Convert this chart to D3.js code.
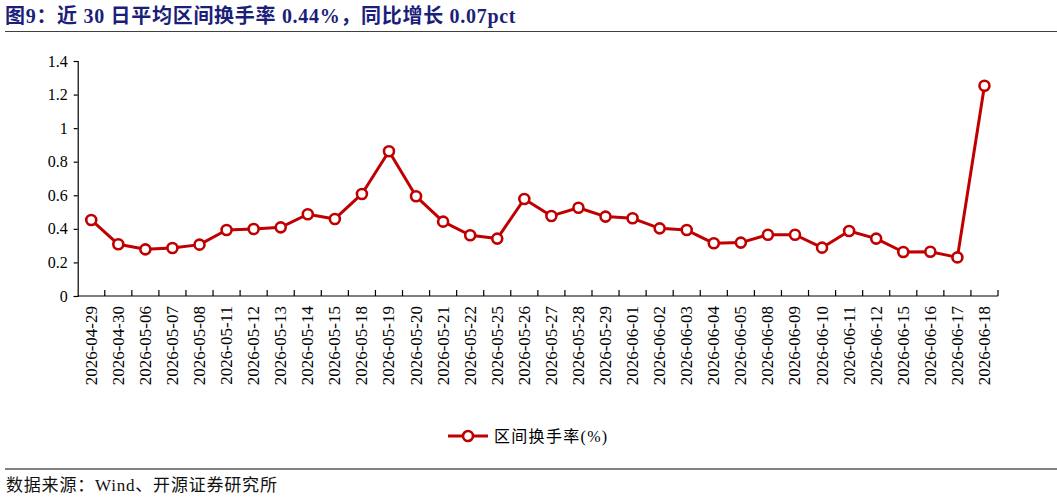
<!DOCTYPE html>
<html>
<head>
<meta charset="utf-8">
<script src="https://cdn.jsdelivr.net/npm/d3@7"></script>
<style>
  body { margin: 0; background: #fff; }
  svg { display: block; }
  text { font-family: "Liberation Serif", "Noto Sans CJK SC", serif; }
</style>
</head>
<body>
<main></main>
<script>
const dates = ["2026-04-29","2026-04-30","2026-05-06","2026-05-07","2026-05-08","2026-05-11","2026-05-12",
  "2026-05-13","2026-05-14","2026-05-15","2026-05-18","2026-05-19","2026-05-20","2026-05-21","2026-05-22",
  "2026-05-25","2026-05-26","2026-05-27","2026-05-28","2026-05-29","2026-06-01","2026-06-02","2026-06-03",
  "2026-06-04","2026-06-05","2026-06-08","2026-06-09","2026-06-10","2026-06-11","2026-06-12","2026-06-15",
  "2026-06-16","2026-06-17","2026-06-18"];

const turnover = [0.453,0.308,0.278,0.286,0.306,0.393,0.399,0.409,0.487,0.459,0.608,0.862,0.594,0.443,0.362,
  0.342,0.578,0.477,0.526,0.473,0.463,0.403,0.393,0.314,0.318,0.365,0.365,0.288,0.387,0.342,0.262,0.264,0.230,1.253];

const yTicks = [0, 0.2, 0.4, 0.6, 0.8, 1, 1.2, 1.4];

const titleText = "图9：近 30 日平均区间换手率 0.44%，同比增长 0.07pct";
const seriesName = "区间换手率(%)";
const sourceText = "数据来源：Wind、开源证券研究所";

const W = 1057, H = 498;
const red = "#C00000";

let svg = d3.select("main").append("svg").attr("width", W).attr("height", H);

// title + rules
svg.append("text")
  .attr("x", 5).attr("y", 23)
  .attr("font-size", "20px")
  .attr("font-weight", "bold")
  .attr("letter-spacing", "0.7px")
  .attr("fill", "#1B1F7A")
  .text(titleText);
svg.append("line")
  .attr("x1", 5).attr("x2", W).attr("y1", 31.5).attr("y2", 31.5)
  .attr("stroke", "#404040").attr("stroke-width", 1.2);
svg.append("line")
  .attr("x1", 5).attr("x2", W).attr("y1", 469).attr("y2", 469)
  .attr("stroke", "#808080").attr("stroke-width", 2);
svg.append("text")
  .attr("x", 6).attr("y", 491)
  .attr("font-size", "17px")
  .attr("letter-spacing", "0.8px")
  .attr("fill", "#111")
  .text(sourceText);

// scales
let x = d3.scaleBand().domain(dates).range([77.7, 998]).padding(0);
let y = d3.scaleLinear().domain([0, 1.4]).range([296, 61]);

// y axis
let yAxis = svg.append("g")
  .attr("transform", "translate(77.7,0)")
  .call(d3.axisLeft(y).tickValues(yTicks).tickFormat(d => d3.format("")(+d.toFixed(1))).tickSize(4).tickPadding(6));
yAxis.select(".domain").attr("stroke", "#000").attr("stroke-width", 1.2);
yAxis.selectAll(".tick line").attr("stroke", "#000").attr("stroke-width", 1.2);
yAxis.selectAll("text").attr("font-size", "16px").attr("fill", "#000")
  .attr("font-family", "Liberation Serif");

// x axis
let xAxis = svg.append("g");
xAxis.append("line")
  .attr("x1", x.range()[0]).attr("x2", x.range()[1])
  .attr("y1", y(0)).attr("y2", y(0))
  .attr("stroke", "#000").attr("stroke-width", 1.2);
let bounds = dates.map(d => x(d)).concat([x.range()[1]]).slice(1);
xAxis.selectAll("line.tk")
  .data(bounds)
  .enter()
  .append("line")
  .attr("class", "tk")
  .attr("x1", d => d).attr("x2", d => d)
  .attr("y1", y(0)).attr("y2", y(0) - 6)
  .attr("stroke", "#000").attr("stroke-width", 1.2);
xAxis.selectAll("text")
  .data(dates)
  .enter()
  .append("text")
  .attr("transform", d => `translate(${x(d) + x.bandwidth() / 2 + 5.5},${y(0) + 10}) rotate(-90)`)
  .attr("text-anchor", "end")
  .attr("font-size", "17px")
  .attr("fill", "#000")
  .text(d => d);

// line + markers
let line = d3.line()
  .x((d, i) => x(dates[i]) + x.bandwidth() / 2)
  .y(d => y(d));

svg.append("path")
  .datum(turnover)
  .attr("d", line)
  .attr("fill", "none")
  .attr("stroke", red)
  .attr("stroke-width", 3)
  .attr("stroke-linejoin", "round");

svg.selectAll("circle.pt")
  .data(turnover)
  .enter()
  .append("circle")
  .attr("class", "pt")
  .attr("cx", (d, i) => x(dates[i]) + x.bandwidth() / 2)
  .attr("cy", d => y(d))
  .attr("r", 5)
  .attr("fill", "#fff")
  .attr("stroke", red)
  .attr("stroke-width", 2.6);

// legend
let legend = svg.append("g").attr("transform", "translate(448,436)");
legend.append("line")
  .attr("x1", 0).attr("x2", 40).attr("y1", 0).attr("y2", 0)
  .attr("stroke", red).attr("stroke-width", 3);
legend.append("circle")
  .attr("cx", 20).attr("cy", 0).attr("r", 5)
  .attr("fill", "#fff").attr("stroke", red).attr("stroke-width", 2.6);
legend.append("text")
  .attr("x", 46).attr("y", 6)
  .attr("font-size", "16px")
  .attr("letter-spacing", "1.3px")
  .attr("fill", "#000")
  .text(seriesName);
</script>
</body>
</html>
